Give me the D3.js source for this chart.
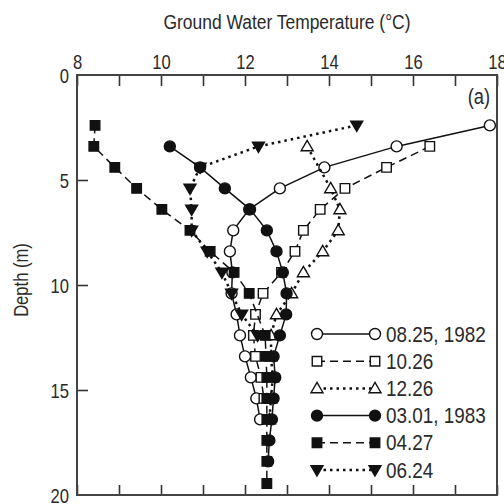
<!DOCTYPE html>
<html lang="en">
<head>
<meta charset="UTF-8">
<title>Ground water temperature</title>
<script src="https://cdn.jsdelivr.net/npm/d3@7"></script>
<style>
  body { margin: 0; background: #fff; }
  text { font-family: "Liberation Sans", Arial, sans-serif; fill: #2a2a2a; }
</style>
</head>
<body>
<div id="main_container"></div>
<script>

    // depth of each reading (m)
    var depths = [2.4, 3.4, 4.4, 5.4, 6.4, 7.4, 8.4, 9.4, 10.4, 11.4, 12.4, 13.4, 14.4, 15.4, 16.4, 17.4, 18.4, 19.45];

    // temperatures (°C) per survey, null = no reading
    var t0825 = [17.83, 15.61, 13.89, 12.83, 12.1, 11.72, 11.64, 11.7, 11.68, 11.8, 11.88, 12.0, 12.14, 12.27, 12.36, null, null, null];
    var t1026 = [null, 16.4, 15.37, 14.38, 13.79, 13.39, 13.19, 12.87, 12.43, 12.25, 12.2, 12.25, 12.38, 12.45, null, null, null, null];
    var t1226 = [null, 13.48, null, 14.04, 14.26, 14.22, 13.85, 13.39, 13.11, 12.75, 12.62, 12.62, 12.66, 12.62, 12.58, null, null, null];
    var t0301 = [null, 10.21, 10.93, 11.52, 12.12, 12.52, 12.75, 12.9, 12.99, 12.98, 12.83, 12.68, 12.72, 12.68, 12.64, 12.58, 12.55, null];
    var t0427 = [8.43, 8.4, 8.9, 9.42, 10.02, 10.69, 11.17, 11.74, 12.1, null, 12.48, 12.5, 12.52, 12.52, 12.52, 12.52, 12.52, 12.52];
    var t0624 = [14.66, 12.32, 10.93, 10.69, 10.73, 10.73, 11.1, 11.45, 11.68, 11.92, 12.3, null, null, null, null, null, null, null];

    var seriesNames = ["08.25, 1982", "10.26", "12.26", "03.01, 1983", "04.27", "06.24"];
    var seriesTemps = [t0825, t1026, t1226, t0301, t0427, t0624];
    var seriesShape = ["circle", "square", "triangle", "circle", "square", "tridown"];
    var seriesFilled = [false, false, false, true, true, true];
    var seriesDash = ["", "8,5", "2.5,4", "", "8,5", "2.5,4"];

    var xTicks = [8, 9, 10, 11, 12, 13, 14, 15, 16, 17, 18];
    var yTicks = [0, 5, 10, 15, 20];

    var svgWidth = 504, svgHeight = 504;
    var mLeft = 77, mRight = 497, mTop = 75, mBottom = 495;
    var squeeze = 0.83;   // fake a narrow face

    var svg = d3.select("#main_container").append("svg")
            .attr("width", svgWidth)
            .attr("height", svgHeight);

    var x = d3.scaleLinear().domain([8, 18]).range([mLeft, mRight]);
    var y = d3.scaleLinear().domain([0, 20]).range([mTop, mBottom]);

    // axes (ticks point inward)
    var axTop = svg.append("g").attr("transform", "translate(0," + mTop + ")")
        .call(d3.axisTop(x).tickValues(xTicks).tickSize(-11).tickPadding(6)
            .tickFormat(function(d){ return d % 2 == 0 ? d : ""; }));
    var axBot = svg.append("g").attr("transform", "translate(0," + mBottom + ")")
        .call(d3.axisBottom(x).tickValues(xTicks).tickSize(-10).tickFormat(""));
    var axLeft = svg.append("g").attr("transform", "translate(" + mLeft + ",0)")
        .call(d3.axisLeft(y).tickValues(yTicks).tickSize(-11).tickPadding(8));

    [axTop, axBot, axLeft].forEach(function(g){
        g.select(".domain").remove();
        g.attr("font-family", null).attr("font-size", null);
        g.selectAll(".tick line").attr("stroke", "#333").attr("stroke-width", 1.6);
        g.selectAll(".tick text").attr("font-size", 20).attr("fill", "#2a2a2a")
            .attr("transform", "scale(" + squeeze + ",1)");
    });
    axLeft.selectAll(".tick line").filter(function(d){ return d == 0 || d == 20; }).remove();
    axLeft.selectAll(".tick text").attr("x", -8 / squeeze).attr("dy", "0.36em");

    // frame
    svg.append("rect")
        .attr("x", mLeft).attr("y", mTop)
        .attr("width", mRight - mLeft).attr("height", mBottom - mTop)
        .attr("fill", "none").attr("stroke", "#444").attr("stroke-width", 2);

    function label(tx, ty, str, size, anchor, rot) {
        svg.append("text")
            .attr("transform", "translate(" + tx + "," + ty + ")" + (rot ? " rotate(" + rot + ")" : "") + " scale(" + squeeze + ",1)")
            .attr("text-anchor", anchor).attr("font-size", size)
            .text(str);
    }

    label(287, 29, "Ground Water Temperature (°C)", 21, "middle");
    label(28, 280, "Depth (m)", 20, "middle", -90);
    label(490, 104, "(a)", 22, "end");

    function symbolPath(shape) {
        if (shape == "circle") return d3.symbol().type(d3.symbolCircle).size(95)();
        if (shape == "square") return d3.symbol().type(d3.symbolSquare).size(90)();
        if (shape == "triangle") return "M0,-6L6,4.3L-6,4.3Z";
        return "M0,6L6,-4.3L-6,-4.3Z";
    }

    var line = d3.line()
        .x(function(d){ return x(d.t); })
        .y(function(d){ return y(d.d); });

    seriesTemps.forEach(function(temps, i) {
        var pts = [];
        temps.forEach(function(t, k){ if (t != null) pts.push({t: t, d: depths[k]}); });
        var g = svg.append("g");
        g.append("path").datum(pts)
            .attr("d", line)
            .attr("fill", "none")
            .attr("stroke", "#111")
            .attr("stroke-width", seriesDash[i] == "2.5,4" ? 2.5 : 1.5)
            .attr("stroke-dasharray", seriesDash[i] || null);
        g.selectAll(".pt").data(pts).enter().append("path")
            .attr("class", "pt")
            .attr("transform", function(d){ return "translate(" + x(d.t) + "," + y(d.d) + ")"; })
            .attr("d", symbolPath(seriesShape[i]))
            .attr("fill", seriesFilled[i] ? "#111" : "#fff")
            .attr("stroke", "#111")
            .attr("stroke-width", 1.4);
    });

    // legend
    var leg = svg.append("g");
    seriesNames.forEach(function(name, i) {
        var ly = 334 + i * 27.2;
        leg.append("line")
            .attr("x1", 317).attr("x2", 375).attr("y1", ly).attr("y2", ly)
            .attr("stroke", "#111")
            .attr("stroke-width", seriesDash[i] == "2.5,4" ? 2.5 : 1.5)
            .attr("stroke-dasharray", seriesDash[i] || null);
        [317, 375].forEach(function(lx){
            leg.append("path")
                .attr("transform", "translate(" + lx + "," + ly + ")")
                .attr("d", symbolPath(seriesShape[i]))
                .attr("fill", seriesFilled[i] ? "#111" : "#fff")
                .attr("stroke", "#111").attr("stroke-width", 1.4);
        });
        leg.append("text")
            .attr("transform", "translate(386," + (ly + 7.5) + ") scale(0.86,1)")
            .attr("font-size", 22).text(name);
    });

</script>
</body>
</html>
